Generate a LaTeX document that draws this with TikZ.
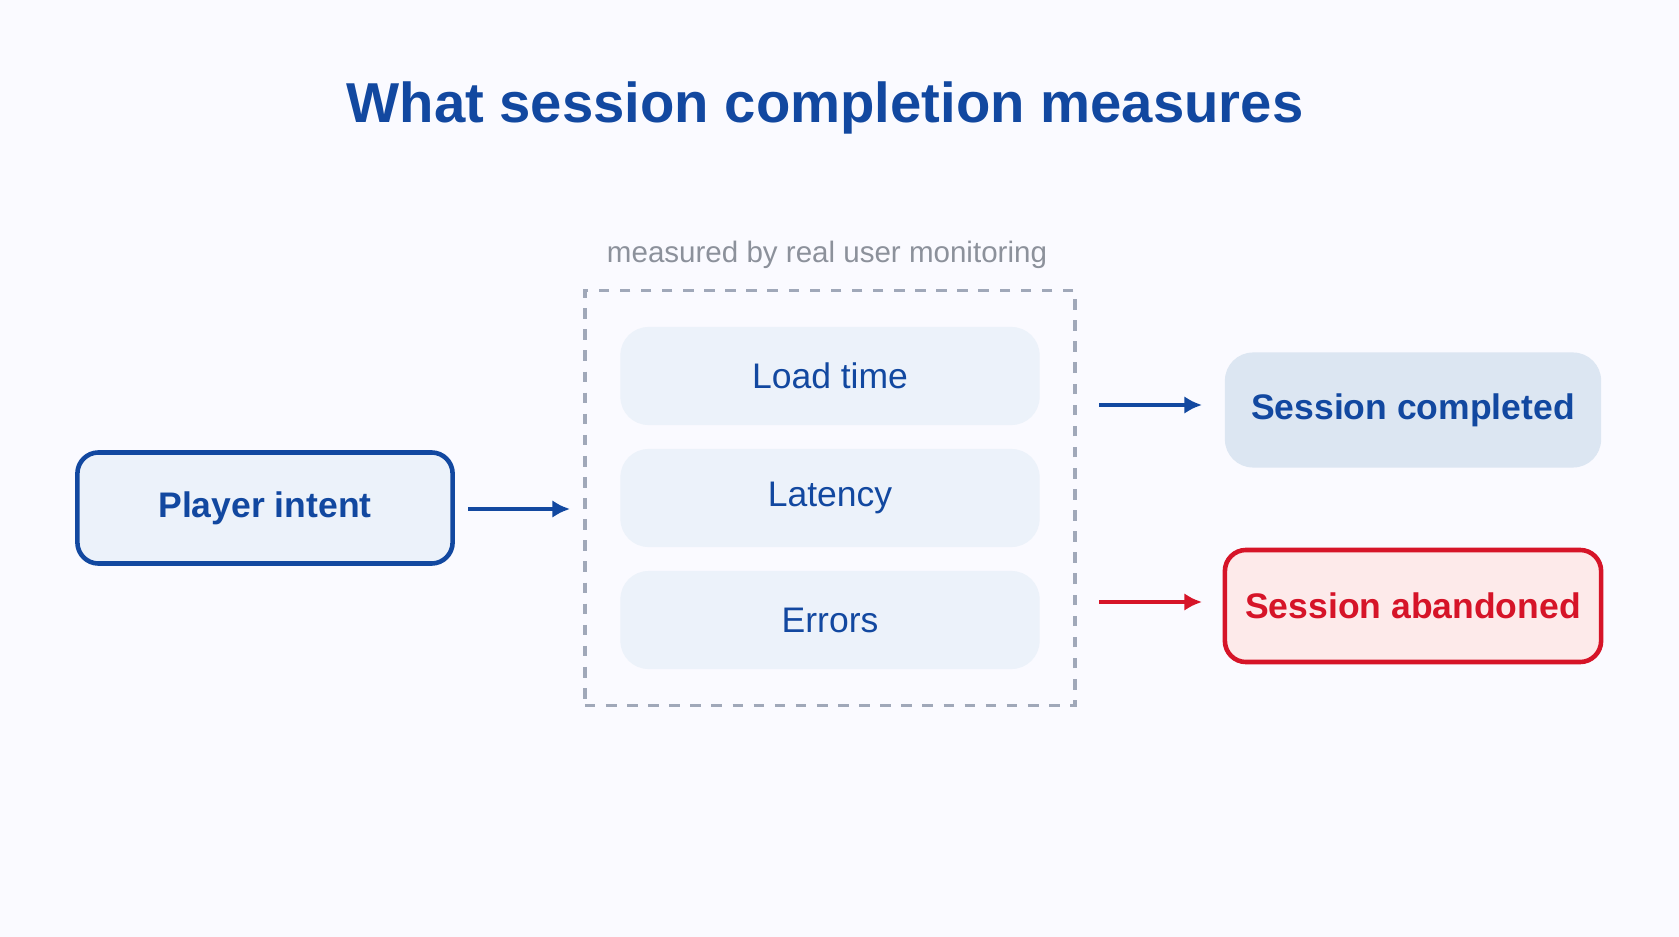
\documentclass[tikz,border=0pt]{standalone}
\usepackage{fontspec}
\setmainfont{Liberation Sans}
\usepackage{xcolor}
\usetikzlibrary{positioning,arrows.meta}
\definecolor{navy}{RGB}{18,72,160}
\definecolor{paleblue}{RGB}{236,242,250}
\definecolor{donebg}{RGB}{220,230,242}
\definecolor{alarm}{RGB}{214,20,40}
\definecolor{alarmbg}{RGB}{253,234,234}
\definecolor{hint}{RGB}{140,145,155}
\definecolor{dash}{RGB}{160,168,185}

\begin{document}
\begin{tikzpicture}[
    x=0.01cm, y=-0.01cm,
    start/.style={rectangle, rounded corners=6pt, draw=navy, line width=1.3pt, fill=paleblue, minimum width=3.75cm, minimum height=1.11cm, font=\fontsize{10.1}{12}\selectfont\bfseries, text=navy},
    metric/.style={rectangle, rounded corners=8pt, fill=paleblue, minimum width=4.19cm, minimum height=0.98cm, font=\fontsize{10.1}{12}\selectfont, text=navy},
    rum/.style={rectangle, draw=dash, dashed, line width=1pt, minimum width=4.9cm, minimum height=4.15cm},
    done/.style={rectangle, rounded corners=8pt, fill=donebg, minimum width=3.76cm, minimum height=1.15cm, font=\fontsize{10.1}{12}\selectfont\bfseries, text=navy},
    lost/.style={rectangle, rounded corners=6pt, draw=alarm, line width=1.3pt, fill=alarmbg, minimum width=3.76cm, minimum height=1.12cm, font=\fontsize{10.1}{12}\selectfont\bfseries, text=alarm},
    arrow/.style={-{Latex[length=5pt,width=5pt]}, line width=1.2pt, draw=navy}
]
\fill[white!98!blue] (0,0) rectangle (1679,937);

% Title
\node[font=\fontsize{16}{19}\selectfont\bfseries, text=navy] (title) at (825,108) {What session completion measures};

% Input
\node[start] (intent) at (265,508) {Player intent};

% Monitored factors
\node[rum] (rum) at (830,498) {};
\node[font=\fontsize{8.4}{10}\selectfont, text=hint] (rumlabel) at (827,255) {measured by real user monitoring};
\node[metric] (load) at (830,376) {Load time};
\node[metric] (latency) at (830,498) {Latency};
\node[metric] (errors) at (830,620) {Errors};

% Outcomes
\node[done] (completed) at (1413,410) {Session completed};
\node[lost] (abandoned) at (1413,606) {Session abandoned};

% Arrows
\coordinate (a1) at (468,509);
\coordinate (a2) at (570,509);
\coordinate (b1) at (1099,405);
\coordinate (b2) at (1202,405);
\coordinate (c1) at (1099,602);
\coordinate (c2) at (1202,602);
\draw[arrow] (a1) -- (a2);
\draw[arrow] (b1) -- (b2);
\draw[arrow, draw=alarm] (c1) -- (c2);
\end{tikzpicture}
\end{document}
